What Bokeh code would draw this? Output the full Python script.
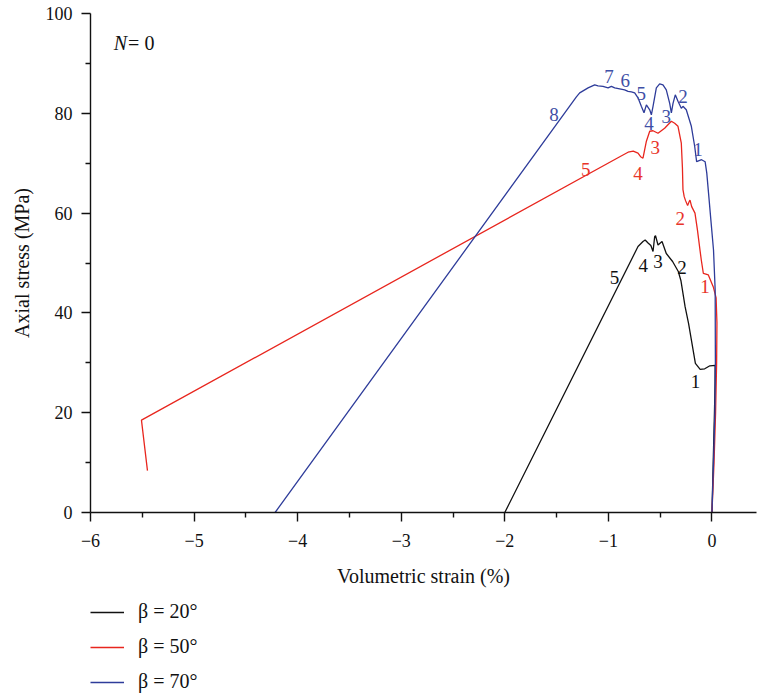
from bokeh.plotting import figure
from bokeh.layouts import column
from bokeh.models import (FixedTicker, Legend, LegendItem, Label, ColumnDataSource, Range1d)
from bokeh.core.properties import value
from bokeh.embed import file_html
from bokeh.resources import INLINE

# ---- data ----
b20_x = [0, 0.012, 0.024, 0.03, 0.031, -0.02, -0.07, -0.114, -0.16, -0.226, -0.259, -0.3, -0.325, -0.38,
         -0.441, -0.482, -0.521, -0.545, -0.553, -0.569, -0.59, -0.617, -0.645, -0.666, -0.714, -2.0]
b20_y = [0, 10, 20, 26, 29.5, 29.4, 28.8, 28.7, 29.9, 37.9, 41.2, 46.5, 48.3, 50.3,
         51.9, 54.3, 53.6, 55.5, 55.3, 52.3, 53.5, 54.0, 54.6, 54.3, 53.3, 0]

b50_x = [0, 0.02, 0.035, 0.045, 0.048, 0.04, 0.013, -0.035, -0.083, -0.103, -0.115, -0.14, -0.164,
         -0.196, -0.212, -0.22, -0.235, -0.255, -0.268, -0.28, -0.285, -0.296, -0.328, -0.36, -0.392,
         -0.425, -0.457, -0.521, -0.569, -0.601, -0.633, -0.666, -0.689, -0.714, -0.76, -0.81, -0.89,
         -5.508, -5.45]
b50_y = [0, 10, 20, 30, 38, 43, 45.2, 47.6, 47.9, 50.6, 52.5, 56.6, 60.0,
         61.3, 62.6, 62.3, 61.5, 62.5, 63.3, 64.7, 69, 74.0, 77.4, 78.0, 78.4,
         77.7, 77.0, 76.0, 76.5, 76.4, 74.4, 71.0, 71.3, 72.0, 72.4, 72.2, 71.3,
         18.5, 8.4]

b70_x = [0, 0.015, 0.028, 0.033, 0.031, 0.015, -0.01, -0.033, -0.05, -0.066, -0.1, -0.148, -0.167,
         -0.199, -0.248, -0.28, -0.296, -0.328, -0.354, -0.376, -0.392, -0.408, -0.441, -0.473,
         -0.505, -0.537, -0.569, -0.585, -0.601, -0.633, -0.656, -0.682, -0.714, -0.746, -0.778,
         -0.81, -0.843, -0.891, -0.939, -0.971, -1.003, -1.052, -1.1, -1.132, -1.196, -1.277,
         -1.309, -4.218]
b70_y = [0, 10, 20, 30, 44.6, 52.6, 58.5, 64.0, 68, 70.3, 70.7, 70.3, 73.4,
         77.4, 80.7, 81.4, 81.0, 82.4, 83.7, 82.0, 80.1, 82.0, 84.7, 85.7,
         85.9, 85.1, 81.4, 79.7, 80.7, 81.7, 80.1, 81.4, 83.1, 84.1, 84.3,
         84.4, 84.7, 84.9, 85.1, 85.4, 85.1, 85.4, 85.5, 85.7, 85.1, 84.1,
         83.3, 0]

# stage labels
lab20_x = [-0.158, -0.29, -0.521, -0.663, -0.94]
lab20_y = [26.2, 49.1, 50.3, 49.5, 47.1]
lab20_t = ["1", "2", "3", "4", "5"]

lab50_x = [-0.068, -0.305, -0.547, -0.714, -1.218]
lab50_y = [45.2, 59.0, 73.2, 68.0, 68.7]
lab50_t = ["1", "2", "3", "4", "5"]

lab70_x = [-0.135, -0.28, -0.441, -0.607, -0.682, -0.836, -0.994, -1.524]
lab70_y = [72.7, 83.4, 79.4, 77.9, 83.9, 86.6, 87.3, 79.7]
lab70_t = ["1", "2", "3", "4", "5", "6", "7", "8"]

series_names = ["β = 20°", "β = 50°", "β = 70°"]

x_ticks = [-6, -5, -4, -3, -2, -1, 0]
x_tick_labels = ["−6", "−5", "−4", "−3", "−2", "−1", "0"]
x_minor = [-5.5, -4.5, -3.5, -2.5, -1.5, -0.5]
y_ticks = [0, 20, 40, 60, 80, 100]
y_minor = [10, 30, 50, 70, 90]

# ---- styling ----
FONT = "Liberation Serif"
C_BLACK = "#111111"
C_RED = "#e8261e"
C_BLUE = "#2e3c9a"
C_RED_T = "#e8342a"
C_BLUE_T = "#3f4fa6"

p = figure(width=758, height=592, output_backend="svg", toolbar_location=None,
           x_range=Range1d(-6, 0.43), y_range=Range1d(0, 100),
           min_border_left=90, min_border_right=2, min_border_top=13, min_border_bottom=80)
p.outline_line_color = None
p.xgrid.visible = False
p.ygrid.visible = False

r20 = p.line(b20_x, b20_y, line_color=C_BLACK, line_width=1.3)
r50 = p.line(b50_x, b50_y, line_color=C_RED, line_width=1.3)
r70 = p.line(b70_x, b70_y, line_color=C_BLUE, line_width=1.3)

for lx, ly, lt, col in [(lab20_x, lab20_y, lab20_t, C_BLACK),
                        (lab50_x, lab50_y, lab50_t, C_RED_T),
                        (lab70_x, lab70_y, lab70_t, C_BLUE_T)]:
    src = ColumnDataSource(dict(x=lx, y=ly, t=lt))
    p.text(x="x", y="y", text="t", source=src, text_font=value(FONT), text_font_size="19px",
           text_color=col, text_align="center", text_baseline="middle")

# axes
p.xaxis.ticker = FixedTicker(ticks=x_ticks, minor_ticks=x_minor)
p.xaxis.major_label_overrides = {t: l for t, l in zip(x_ticks, x_tick_labels)}
p.yaxis.ticker = FixedTicker(ticks=y_ticks, minor_ticks=y_minor)
p.xaxis.axis_label = "Volumetric strain (%)"
p.yaxis.axis_label = "Axial stress (MPa)"
for ax in (p.xaxis[0], p.yaxis[0]):
    ax.axis_line_color = "#111111"
    ax.axis_line_width = 1.4
    ax.major_tick_line_color = "#111111"
    ax.major_tick_line_width = 1.4
    ax.minor_tick_line_color = "#111111"
    ax.minor_tick_line_width = 1.4
    ax.major_tick_in = 0
    ax.major_tick_out = 9
    ax.minor_tick_in = 0
    ax.minor_tick_out = 5
    ax.major_label_text_font = FONT
    ax.major_label_text_font_size = "18px"
    ax.major_label_text_color = "#111111"
    ax.axis_label_text_font = FONT
    ax.axis_label_text_font_size = "20px"
    ax.axis_label_text_font_style = "normal"
    ax.axis_label_text_color = "#111111"
p.xaxis.major_label_standoff = 12
p.xaxis.axis_label_standoff = 15
p.yaxis.major_label_standoff = 9
p.yaxis.axis_label_standoff = 10

# N = 0 annotation
p.add_layout(Label(x=-5.775, y=94.0, text="N", text_font=FONT, text_font_size="20px",
                   text_font_style="italic", text_color="#111111", text_baseline="alphabetic"))
p.add_layout(Label(x=-5.637, y=94.0, text="= 0", text_font=FONT, text_font_size="20px",
                   text_color="#111111", text_baseline="alphabetic"))

# legend panel below the chart (frame aligned with the main chart by the column layout);
# its proxy lines reuse the series data but lie outside this panel's ranges
p2 = figure(width=758, height=106, output_backend="svg", toolbar_location=None,
            x_range=Range1d(10, 11), y_range=Range1d(200, 201),
            min_border_left=0, min_border_right=0, min_border_top=0, min_border_bottom=0)
p2.axis.visible = False
p2.xgrid.visible = False
p2.ygrid.visible = False
p2.outline_line_color = None
e20 = p2.line(b20_x, b20_y, line_color=C_BLACK, line_width=1.3)
e50 = p2.line(b50_x, b50_y, line_color=C_RED, line_width=1.3)
e70 = p2.line(b70_x, b70_y, line_color=C_BLUE, line_width=1.3)
legend = Legend(items=[LegendItem(label=series_names[0], renderers=[e20]),
                       LegendItem(label=series_names[1], renderers=[e50]),
                       LegendItem(label=series_names[2], renderers=[e70])],
                location=(0, 5), orientation="vertical",
                border_line_color=None, background_fill_alpha=0,
                padding=0, margin=0, spacing=12,
                glyph_width=34, glyph_height=20, label_height=20, label_standoff=14,
                label_text_font=FONT, label_text_font_size="20px", label_text_color="#111111")
p2.add_layout(legend)

layout = column(p, p2, spacing=0)
open("out.html", "w").write(file_html(layout, INLINE))
